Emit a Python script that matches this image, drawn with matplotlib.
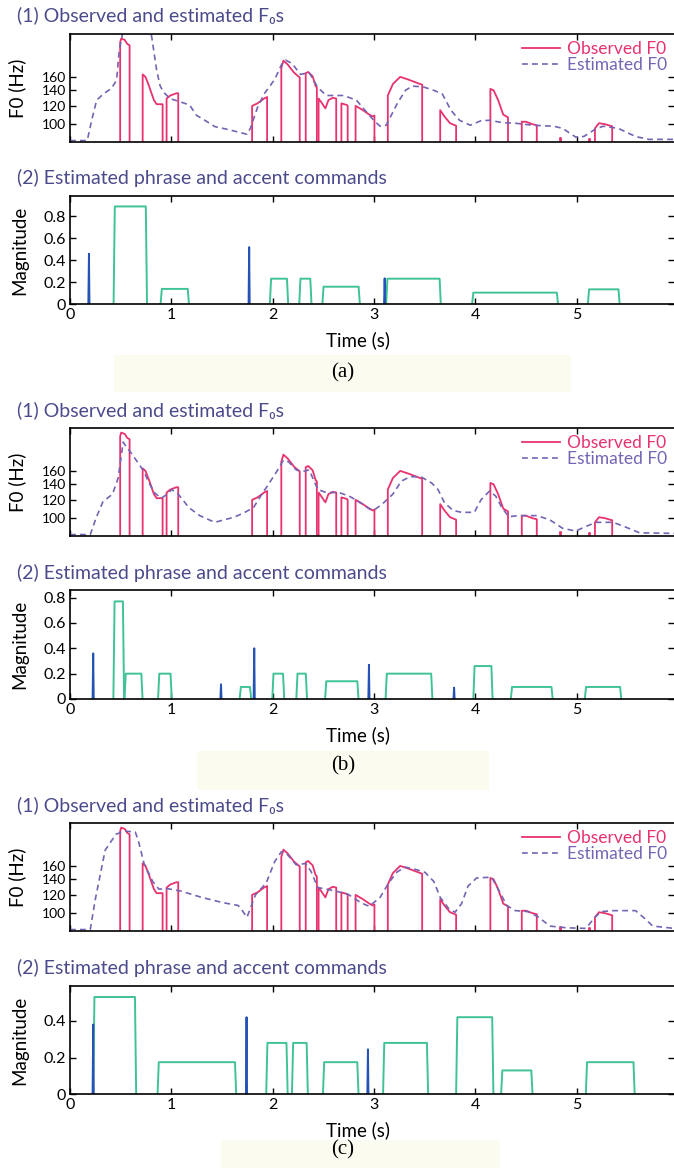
import numpy as np
import matplotlib
matplotlib.use('Agg')
import matplotlib.pyplot as plt
from matplotlib.patches import Rectangle

plt.rcParams['font.family'] = ['Lato', 'DejaVu Sans']

# ---- observed F0 (same utterance in all three panels), voiced segments (time s, Hz)
obs_segments = [
    [(0.495, 226), (0.505, 234), (0.54, 231), (0.565, 222), (0.588, 219)],
    [(0.717, 164), (0.745, 160), (0.78, 146), (0.828, 127), (0.855, 122), (0.914, 122)],
    [(0.953, 129), (0.99, 133), (1.05, 136), (1.068, 136)],
    [(1.797, 120), (1.85, 123), (1.915, 129), (1.945, 131)],
    [(2.085, 175), (2.106, 188), (2.148, 181), (2.21, 167), (2.267, 159)],
    [(2.326, 166), (2.35, 168), (2.394, 161), (2.424, 146), (2.436, 144)],
    [(2.453, 129), (2.487, 123), (2.52, 117), (2.55, 127), (2.593, 130), (2.627, 129)],
    [(2.678, 123), (2.733, 121), (2.74, 120)],
    [(2.818, 120), (2.89, 115), (2.953, 110), (2.987, 108), (3.004, 109)],
    [(3.136, 133), (3.186, 149), (3.258, 160), (3.335, 156), (3.42, 151), (3.475, 148)],
    [(3.653, 115), (3.695, 108), (3.75, 101), (3.81, 98.5)],
    [(4.148, 142), (4.18, 140), (4.225, 127), (4.275, 110), (4.322, 107)],
    [(4.458, 102.5), (4.5, 102.5), (4.564, 100), (4.606, 99)],
    [(4.835, 87), (4.845, 87)],
    [(5.12, 86), (5.13, 86)],
    [(5.18, 96), (5.22, 101), (5.28, 100), (5.33, 98.5), (5.35, 98)],
]

# ---- estimated F0 per panel
est_a_t = [0, 0.17, 0.214, 0.263, 0.329, 0.411, 0.46, 0.486, 0.53, 0.6, 0.7, 0.78,
           0.805, 0.855, 0.888, 0.92, 0.986, 1.085, 1.18, 1.25, 1.30, 1.43, 1.555,
           1.746, 1.78, 1.85, 1.915, 2.02, 2.085, 2.127, 2.19, 2.275, 2.36, 2.445,
           2.53, 2.70, 2.826, 2.91, 2.996, 3.06, 3.12, 3.23, 3.31, 3.377, 3.483, 3.59,
           3.674, 3.758, 3.843, 3.95, 4.055, 4.14, 4.267, 4.394, 4.564, 4.775, 4.86,
           4.99, 5.07, 5.18, 5.26, 5.41, 5.58, 5.71, 5.96]
est_a_f = [85, 85, 104, 127, 135, 143, 155, 209, 260, 300, 300, 262,
           240, 171, 147, 138, 129, 125, 121, 109, 106, 97.6, 95,
           90.5, 96, 118, 135, 156, 180, 189, 183, 164, 167, 144,
           133, 133, 127, 115, 104, 98, 99, 123, 140, 146, 145, 140,
           135, 115, 104, 99, 103.5, 104, 101.6, 101, 99, 98, 96,
           88, 88.5, 95, 98, 96, 88.5, 86, 86]

est_b_t = [0, 0.2, 0.26, 0.326, 0.42, 0.475, 0.525, 0.546, 0.6, 0.665, 0.73, 0.77,
           0.835, 0.9, 0.96, 1.004, 1.068, 1.174, 1.28, 1.428, 1.62, 1.725, 1.81,
           1.873, 1.958, 2.04, 2.106, 2.157, 2.233, 2.297, 2.36, 2.445, 2.53, 2.657,
           2.763, 2.847, 2.953, 2.996, 3.08, 3.186, 3.27, 3.356, 3.462, 3.568, 3.631,
           3.695, 3.78, 3.864, 3.99, 4.055, 4.14, 4.2, 4.267, 4.33, 4.436, 4.606,
           4.733, 4.86, 4.99, 5.07, 5.19, 5.36, 5.49, 5.62, 5.96]
est_b_f = [85, 85, 101, 118, 127, 149, 213, 206, 192, 175, 159, 144.6,
           128.6, 122, 127, 133, 127, 111, 102.6, 96, 101, 106, 111,
           123, 140, 159, 178, 175, 161.6, 159, 161.6, 133, 129, 129,
           124, 118, 110, 108, 115, 127, 144.6, 151, 151, 142, 133,
           116.6, 108, 106, 106, 120, 131, 124.7, 110, 101.6, 102.6, 102.6,
           98.5, 90.5, 88, 91.3, 96, 96, 91.3, 86.5, 86]

est_c_t = [0, 0.2, 0.25, 0.347, 0.453, 0.538, 0.644, 0.674, 0.73, 0.814, 0.877,
           0.962, 1.09, 1.30, 1.51, 1.66, 1.7, 1.746, 1.78, 1.83, 1.936, 2.02, 2.085,
           2.127, 2.233, 2.326, 2.38, 2.445, 2.53, 2.614, 2.74, 2.87, 2.953, 2.996,
           3.06, 3.144, 3.23, 3.31, 3.42, 3.504, 3.59, 3.653, 3.737, 3.8, 3.864, 3.928,
           4.013, 4.16, 4.225, 4.31, 4.394, 4.52, 4.627, 4.733, 4.9, 5.09, 5.18, 5.24,
           5.37, 5.58, 5.67, 5.75, 5.96]
est_c_f = [85, 85, 115, 187, 219, 226, 224, 206, 164, 137.5, 127,
           127.6, 124.7, 117, 111, 108, 102.6, 96, 105, 120, 135, 167, 184,
           183, 161.6, 164, 151, 129, 127, 124.7, 121, 111, 107, 111,
           117, 135, 151, 158, 154, 150, 137, 117, 104.6, 101, 110, 131,
           142, 143, 127, 108, 102.6, 101.6, 96, 88, 86.5, 86, 96, 101.6,
           102.6, 102.6, 95, 88, 86]

# ---- phrase commands (impulses) and accent commands (steps)
phrase_a_t = [0.187, 1.768, 3.105]
phrase_a_amp = [0.46, 0.52, 0.236]
accent_a_on = [0.43, 0.894, 1.972, 2.262, 2.49, 3.12, 3.968, 5.11]
accent_a_off = [0.76, 1.174, 2.153, 2.383, 2.86, 3.659, 4.816, 5.424]
accent_a_amp = [0.89, 0.14, 0.233, 0.233, 0.16, 0.233, 0.106, 0.136]

phrase_b_t = [0.229, 1.49, 1.818, 2.95, 3.79]
phrase_b_amp = [0.36, 0.116, 0.40, 0.27, 0.09]
accent_b_on = [0.428, 0.538, 0.869, 1.674, 1.996, 2.233, 2.517, 3.114, 3.98, 4.35, 5.08]
accent_b_off = [0.534, 0.716, 1.004, 1.788, 2.114, 2.339, 2.847, 3.576, 4.17, 4.763, 5.44]
accent_b_amp = [0.77, 0.2, 0.2, 0.095, 0.2, 0.2, 0.14, 0.2, 0.26, 0.095, 0.095]

phrase_c_t = [0.229, 1.742, 2.94]
phrase_c_amp = [0.38, 0.42, 0.245]
accent_c_on = [0.229, 0.864, 1.936, 2.19, 2.496, 3.089, 3.81, 4.254, 5.09]
accent_c_off = [0.653, 1.64, 2.148, 2.347, 2.847, 3.534, 4.178, 4.564, 5.572]
accent_c_amp = [0.53, 0.175, 0.28, 0.28, 0.175, 0.28, 0.42, 0.13, 0.175]

f0_ticks = [100, 120, 140, 160]
mag_lims = [0.985, 0.86, 0.59]
mag_ticks = [[0, 0.2, 0.4, 0.6, 0.8], [0, 0.2, 0.4, 0.6, 0.8], [0, 0.2, 0.4]]
captions = ['(a)', '(b)', '(c)']

OBS_C = '#e8326e'
EST_C = '#7564b4'
ACC_C = '#3fc395'
PHR_C = '#2453b5'
TITLE_C = '#4b4b8c'

W, H = 674, 1168
fig = plt.figure(figsize=(W / 100, H / 100), dpi=100)


def px_axes(top, bottom, left=70, right=674):
    return fig.add_axes([left / W, 1 - bottom / H, (right - left) / W, (bottom - top) / H])


def style(ax, size):
    ax.set_xlim(0, 5.96)
    ax.set_xticks([0, 1, 2, 3, 4, 5])
    ax.tick_params(direction='in', length=4, width=1, top=True, right=True,
                   labelsize=size, pad=3, colors='black')
    for s in ax.spines.values():
        s.set_linewidth(1.2)
    ax.spines['right'].set_visible(False)


# pixel layout of each panel group
f0_rows = [(34, 142), (428, 536), (823, 931)]
mag_rows = [(196, 304.3), (590, 699), (986, 1094.3)]
title1_y = [15, 410, 805]
title2_y = [178, 573, 968]
time_y = [340, 735, 1130]
cap_y = [373, 766, 1150]
boxes = [(114, 355, 571, 392), (197, 751, 489, 790), (221, 1140, 500, 1168)]

estimates = [(est_a_t, est_a_f), (est_b_t, est_b_f), (est_c_t, est_c_f)]
phrases = [(phrase_a_t, phrase_a_amp), (phrase_b_t, phrase_b_amp), (phrase_c_t, phrase_c_amp)]
accents = [(accent_a_on, accent_a_off, accent_a_amp),
           (accent_b_on, accent_b_off, accent_b_amp),
           (accent_c_on, accent_c_off, accent_c_amp)]

for i in range(3):
    # background box behind the caption
    x0, y0, x1, y1 = boxes[i]
    fig.add_artist(Rectangle((x0 / W, 1 - y1 / H), (x1 - x0) / W, (y1 - y0) / H,
                             transform=fig.transFigure, facecolor='#fbfbf0',
                             edgecolor='none', zorder=0))

    # (1) F0 panel
    ax = px_axes(*f0_rows[i])
    ax.set_yscale('log', nonpositive='clip')
    for k, seg in enumerate(obs_segments):
        t = [seg[0][0]] + [p[0] for p in seg] + [seg[-1][0]]
        f = [0] + [p[1] for p in seg] + [0]
        ax.plot(t, f, color=OBS_C, lw=1.3, label='Observed F0' if k == 0 else None)
    et, ef = estimates[i]
    ax.plot(et, ef, color=EST_C, lw=1.2, ls=(0, (3.5, 2.5)), label='Estimated F0')
    style(ax, 10)
    ax.set_ylim(83.8, 245)
    ax.set_yticks(f0_ticks)
    ax.set_yticklabels([str(v) for v in f0_ticks])
    ax.yaxis.set_minor_locator(matplotlib.ticker.NullLocator())
    ax.set_xticklabels([])
    ax.legend(loc='upper right', frameon=False, labelcolor='linecolor', fontsize=12.5,
              handlelength=2.2, handletextpad=0.4, borderaxespad=0.1,
              labelspacing=0.0, borderpad=0.3)
    fig.text(17 / W, 1 - title1_y[i] / H, '(1) Observed and estimated F\u2080s',
             color=TITLE_C, fontsize=14, va='center', ha='left')
    fig.text(17 / W, 1 - (f0_rows[i][0] + f0_rows[i][1]) / 2 / H, 'F0 (Hz)',
             rotation=90, fontsize=13.5, va='center', ha='center')

    # (2) command panel
    ax2 = px_axes(*mag_rows[i])
    on, off, amp = accents[i]
    for a, b, m in zip(on, off, amp):
        ax2.plot([a, a + 0.012, b - 0.012, b], [0, m, m, 0], color=ACC_C, lw=1.4)
    pt, pa = phrases[i]
    for t, m in zip(pt, pa):
        ax2.plot([t - 0.006, t, t + 0.005], [0, m, 0], color=PHR_C, lw=1.4)
    style(ax2, 11.5)
    ax2.set_ylim(0, mag_lims[i])
    ax2.set_yticks(mag_ticks[i])
    ax2.set_yticklabels(['0' if v == 0 else f'{v:.1f}' for v in mag_ticks[i]])
    fig.text(17 / W, 1 - title2_y[i] / H, '(2) Estimated phrase and accent commands',
             color=TITLE_C, fontsize=14, va='center', ha='left')
    fig.text(20 / W, 1 - (mag_rows[i][0] + mag_rows[i][1]) / 2 / H, 'Magnitude',
             rotation=90, fontsize=13.5, va='center', ha='center')
    fig.text(358 / W, 1 - time_y[i] / H, 'Time (s)', fontsize=13.5, va='center', ha='center')
    fig.text(343 / W, 1 - cap_y[i] / H, captions[i], fontsize=15, va='center',
             ha='center', family='Liberation Serif')

fig.savefig('out.png', dpi=100)
